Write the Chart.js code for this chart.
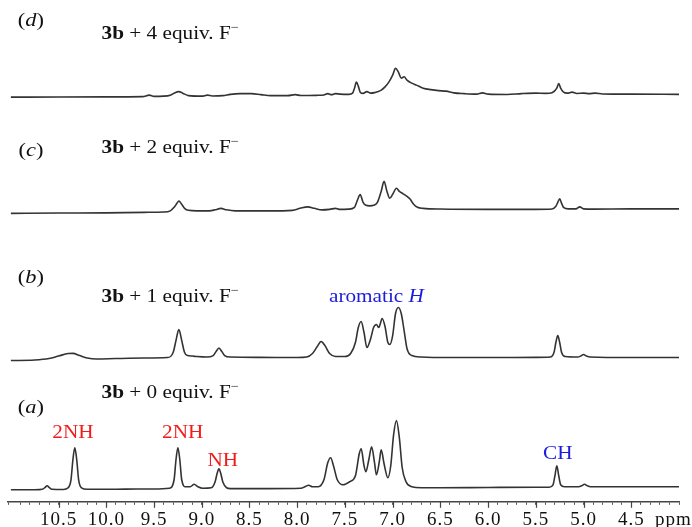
<!DOCTYPE html>
<html>
<head>
<meta charset="utf-8">
<title>1H NMR titration of 3b with fluoride</title>
<script src="https://cdn.jsdelivr.net/npm/chart.js@4.4.1/dist/chart.umd.min.js"></script>
<style>
  html, body { margin: 0; padding: 0; background: #fff; }
  #wrap { width: 692px; height: 527px; }
</style>
</head>
<body>
<div id="wrap"><canvas id="nmrChart" width="692" height="527"></canvas></div>
<script>
// Spectra: [ppm, intensity above the trace's own baseline]
const traceA = [ // 3b + 0 equiv. F-
  [11.00, 0], [10.75, 0], [10.67, 0.5], [10.64, 2.5], [10.62, 4], [10.60, 2.5], [10.57, 0.5],
  [10.45, 0.3], [10.40, 2], [10.37, 10], [10.35, 30], [10.33, 42], [10.31, 30], [10.29, 10],
  [10.26, 2], [10.20, 0.5], [10.00, 0.5], [9.80, 0.7], [9.50, 0.8], [9.34, 1.5], [9.29, 10],
  [9.27, 30], [9.25, 42], [9.23, 30], [9.21, 10], [9.17, 3], [9.12, 3], [9.08, 5.5], [9.04, 3],
  [8.99, 1.5], [8.90, 2], [8.86, 8], [8.84, 16], [8.82, 21], [8.80, 16], [8.78, 8], [8.74, 2],
  [8.70, 1.2], [8.30, 1.2], [7.96, 1.5], [7.92, 3], [7.88, 4.5], [7.84, 3], [7.78, 3],
  [7.72, 10], [7.68, 27], [7.65, 32], [7.62, 24], [7.58, 10], [7.52, 5], [7.45, 8], [7.39, 14],
  [7.35, 36], [7.33, 41], [7.30, 24], [7.28, 18], [7.25, 30], [7.22, 43], [7.19, 27], [7.17, 15],
  [7.14, 28], [7.12, 40], [7.09, 26], [7.05, 12], [7.02, 24], [6.99, 55], [6.96, 69], [6.93, 52],
  [6.90, 22], [6.86, 8], [6.80, 3], [6.70, 2], [6.50, 2], [6.00, 2.3], [5.50, 2.5], [5.36, 2.6],
  [5.32, 5], [5.30, 14], [5.28, 24], [5.26, 14], [5.24, 5], [5.20, 3], [5.05, 3], [5.02, 4],
  [4.99, 5.5], [4.96, 4], [4.93, 3], [4.50, 3], [4.00, 3]
];
const traceB = [ // 3b + 1 equiv. F-
  [11.00, 0], [10.75, 0.5], [10.60, 2], [10.50, 4.5], [10.40, 7], [10.35, 7.2], [10.28, 5],
  [10.20, 2.5], [10.10, 1.5], [9.90, 2], [9.60, 2.5], [9.36, 3], [9.30, 8], [9.27, 20], [9.24, 31],
  [9.21, 20], [9.18, 8], [9.15, 5], [9.10, 4.5], [9.05, 4], [8.95, 3.5], [8.88, 5], [8.85, 9],
  [8.82, 12.5], [8.79, 9], [8.76, 5], [8.70, 3.5], [8.40, 3.2], [8.00, 3], [7.90, 3.5], [7.84, 7],
  [7.79, 14], [7.75, 19], [7.71, 15], [7.66, 7], [7.60, 4], [7.50, 4], [7.44, 7], [7.39, 18],
  [7.36, 33], [7.33, 39], [7.30, 28], [7.27, 13], [7.23, 22], [7.20, 33], [7.17, 36], [7.145, 33],
  [7.11, 42], [7.08, 34], [7.05, 18], [7.03, 16], [7.00, 25], [6.97, 47], [6.94, 53], [6.91, 47],
  [6.88, 30], [6.85, 12], [6.80, 5], [6.70, 3.5], [6.40, 3], [6.00, 3], [5.50, 3.2], [5.35, 3.5],
  [5.31, 8], [5.29, 18], [5.27, 25], [5.25, 18], [5.23, 8], [5.19, 4], [5.06, 3.5], [5.03, 4.5],
  [5.00, 6], [4.97, 4.5], [4.93, 3.5], [4.50, 3], [4.00, 3]
];
const traceC = [ // 3b + 2 equiv. F-
  [11.00, 0], [10.50, 0.3], [10.00, 0.5], [9.60, 1], [9.40, 1.3], [9.33, 2.5], [9.29, 6],
  [9.26, 10], [9.24, 12.3], [9.21, 9], [9.18, 5], [9.14, 3], [9.05, 2.5], [8.92, 2.5], [8.86, 3.5],
  [8.80, 5], [8.74, 3.5], [8.65, 2.5], [8.30, 2.5], [8.05, 3], [7.97, 5], [7.89, 6.5], [7.82, 5],
  [7.74, 3.5], [7.66, 4], [7.60, 5], [7.56, 4], [7.46, 4.2], [7.40, 6], [7.37, 13], [7.34, 18.7],
  [7.31, 11], [7.28, 8], [7.24, 7.5], [7.20, 8], [7.16, 11], [7.12, 22], [7.09, 32], [7.06, 22],
  [7.03, 15], [7.00, 19], [6.96, 25], [6.93, 22], [6.89, 19.5], [6.85, 17], [6.82, 14.5],
  [6.78, 9], [6.74, 6], [6.68, 5], [6.50, 4.3], [6.00, 4], [5.50, 4], [5.33, 4.3], [5.29, 7],
  [5.27, 11], [5.25, 14.5], [5.23, 10], [5.21, 6], [5.16, 4.5], [5.08, 4.5], [5.04, 6.5],
  [5.00, 4.5], [4.90, 4.2], [4.50, 4.5], [4.00, 4.5]
];
const traceD = [ // 3b + 4 equiv. F-
  [11.00, 0], [10.50, 0.2], [10.00, 0.3], [9.62, 0.5], [9.55, 2], [9.50, 0.8], [9.40, 1],
  [9.33, 2], [9.28, 4.5], [9.24, 5.5], [9.20, 4], [9.14, 1.5], [9.00, 1], [8.94, 2], [8.89, 1.2],
  [8.78, 1.5], [8.70, 2.8], [8.60, 3.5], [8.48, 3.5], [8.38, 2.5], [8.28, 1.5], [8.10, 1.5],
  [8.02, 2.5], [7.96, 1.6], [7.80, 1.8], [7.72, 2.2], [7.68, 3.5], [7.64, 2.5], [7.60, 3.5],
  [7.55, 3], [7.46, 2.8], [7.42, 4], [7.40, 9], [7.38, 15], [7.36, 11], [7.34, 5], [7.31, 3.8],
  [7.27, 5.5], [7.23, 4], [7.19, 4.5], [7.16, 5.3], [7.12, 7], [7.08, 10.3], [7.04, 15],
  [7.00, 22], [6.97, 28.7], [6.94, 25], [6.91, 19], [6.88, 20.3], [6.85, 17], [6.80, 14],
  [6.75, 12], [6.68, 9], [6.60, 7.5], [6.52, 6.5], [6.44, 6], [6.36, 4.3], [6.25, 3.5],
  [6.12, 3], [6.06, 4.3], [6.00, 3], [5.80, 2.6], [5.65, 3.5], [5.50, 4], [5.40, 3.8],
  [5.33, 4.5], [5.28, 9], [5.26, 13.7], [5.24, 9], [5.21, 5], [5.17, 4], [5.12, 5], [5.07, 3.7],
  [5.00, 4], [4.94, 3.5], [4.88, 4], [4.80, 3.2], [4.50, 3], [4.00, 2.8]
];

const equivalents = [0, 1, 2, 4];           // F- equivalents for traces a..d
const rowLetters = ['a', 'b', 'c', 'd'];
const majorTicks = [10.5, 10.0, 9.5, 9.0, 8.5, 8.0, 7.5, 7.0, 6.5, 6.0, 5.5, 5.0, 4.5];

// stacking offset of each trace (y units = px above the axis line)
const traceBaselines = [12, 141, 288, 404];

const SERIF = '"Liberation Serif", "Times New Roman", serif';
const RED = '#f01c1c';
const BLUE = '#1c1cdc';
const INK = '#111';
const STRETCH = 1.18; // the figure's lettering is a bit wide

function fnt(size, style) {
    return (style || '') + ' ' + size + 'px ' + SERIF;
}

// row labels and peak assignments, placed in data units
const rowLabelPos = [
    { letter: [10.79, 89],  equiv: [10.05, 104] },
    { letter: [10.79, 218], equiv: [10.05, 199] },
    { letter: [10.79, 345], equiv: [10.05, 348] },
    { letter: [10.79, 475], equiv: [10.05, 462] }
];
const peakLabels = [
    { text: '2NH', ppm: 10.35, y: 64, color: RED },
    { text: '2NH', ppm: 9.20, y: 64, color: RED },
    { text: 'NH', ppm: 8.78, y: 36, color: RED },
    { text: 'CH', ppm: 5.27, y: 43, color: BLUE }
];

function drawRich(ctx, parts, x, y, align) {
    let total = 0;
    parts.forEach(p => {
        ctx.font = p.font;
        p.w = ctx.measureText(p.text).width;
        total += p.w;
    });
    ctx.save();
    ctx.translate(x, y);
    ctx.scale(STRETCH, 1);
    ctx.textBaseline = 'alphabetic';
    ctx.textAlign = 'left';
    let cx = align === 'center' ? -total / 2 : 0;
    parts.forEach(p => {
        ctx.font = p.font;
        ctx.fillStyle = p.color || INK;
        ctx.fillText(p.text, cx, p.dy || 0);
        cx += p.w;
    });
    ctx.restore();
}

const spectrumDecor = {
    id: 'spectrumDecor',
    beforeDraw(chart) {
        chart.ctx.letterSpacing = '1px';
    },
    afterDraw(chart) {
        const ctx = chart.ctx;
        const xs = chart.scales.x;
        const ys = chart.scales.y;
        ctx.save();
        ctx.letterSpacing = '0px';

        // longer ticks at labelled positions
        ctx.strokeStyle = '#444';
        ctx.lineWidth = 1.2;
        xs.ticks.forEach(t => {
            if (majorTicks.some(m => Math.abs(m - t.value) < 1e-6)) {
                const px = Math.round(xs.getPixelForValue(t.value)) + 0.5;
                ctx.beginPath();
                ctx.moveTo(px, xs.top);
                ctx.lineTo(px, xs.top + 6);
                ctx.stroke();
            }
        });

        // unit label
        ctx.font = fnt(19);
        ctx.fillStyle = INK;
        ctx.textAlign = 'center';
        ctx.textBaseline = 'middle';
        ctx.letterSpacing = '1px';
        ctx.fillText('ppm', xs.getPixelForValue(4.06), xs.top + 3 + 8 + 7.6);
        ctx.letterSpacing = '0px';

        // (a)..(d) and "3b + n equiv. F-"
        rowLabelPos.forEach((pos, i) => {
            drawRich(ctx, [
                { text: '(', font: fnt(19) },
                { text: rowLetters[i], font: fnt(19, 'italic') },
                { text: ')', font: fnt(19) }
            ], xs.getPixelForValue(pos.letter[0]), ys.getPixelForValue(pos.letter[1]), 'center');
            drawRich(ctx, [
                { text: '3b', font: fnt(18, 'bold') },
                { text: ' + ' + equivalents[i] + ' equiv. F', font: fnt(18) },
                { text: '\u2212', font: fnt(12), dy: -8 }
            ], xs.getPixelForValue(pos.equiv[0]), ys.getPixelForValue(pos.equiv[1]), 'left');
        });

        drawRich(ctx, [
            { text: 'aromatic ', font: fnt(18), color: BLUE },
            { text: 'H', font: fnt(18, 'italic'), color: BLUE }
        ], xs.getPixelForValue(7.17), ys.getPixelForValue(199), 'center');

        peakLabels.forEach(l => {
            drawRich(ctx, [{ text: l.text, font: fnt(18), color: l.color }],
                xs.getPixelForValue(l.ppm), ys.getPixelForValue(l.y), 'center');
        });
        ctx.restore();
    }
};

const traces = [traceA, traceB, traceC, traceD];
const datasets = traces.map((t, i) => ({
    label: '3b + ' + equivalents[i] + ' equiv. F-',
    data: t.map(([ppm, v]) => ({ x: ppm, y: v + traceBaselines[i] })),
    borderColor: '#333',
    borderWidth: 1.6,
    pointRadius: 0,
    fill: false,
    cubicInterpolationMode: 'monotone'
}));

const ctx = document.getElementById('nmrChart').getContext('2d');
const nmrChart = new Chart(ctx, {
    type: 'line',
    data: { datasets: datasets },
    options: {
        responsive: false,
        animation: false,
        devicePixelRatio: 1,
        events: [],
        layout: { padding: { left: 7, right: 13, top: 0, bottom: -9 } },
        plugins: {
            legend: { display: false },
            tooltip: { enabled: false }
        },
        scales: {
            x: {
                type: 'linear',
                reverse: true,
                min: 4.0,
                max: 11.03,
                grid: {
                    drawOnChartArea: false,
                    drawTicks: true,
                    tickLength: 3,
                    color: '#555',
                    lineWidth: 1
                },
                border: { display: true, color: '#444', width: 1.5 },
                ticks: {
                    stepSize: 0.1,
                    autoSkip: false,
                    maxRotation: 0,
                    minRotation: 0,
                    padding: 8,
                    color: INK,
                    font: { family: SERIF, size: 19, lineHeight: 0.8 },
                    callback: value => {
                        const m = majorTicks.find(t => Math.abs(t - value) < 1e-6);
                        return m === undefined ? '' : m.toFixed(1);
                    }
                }
            },
            y: {
                display: false,
                min: 0,
                max: 501
            }
        }
    },
    plugins: [spectrumDecor]
});
</script>
</body>
</html>
